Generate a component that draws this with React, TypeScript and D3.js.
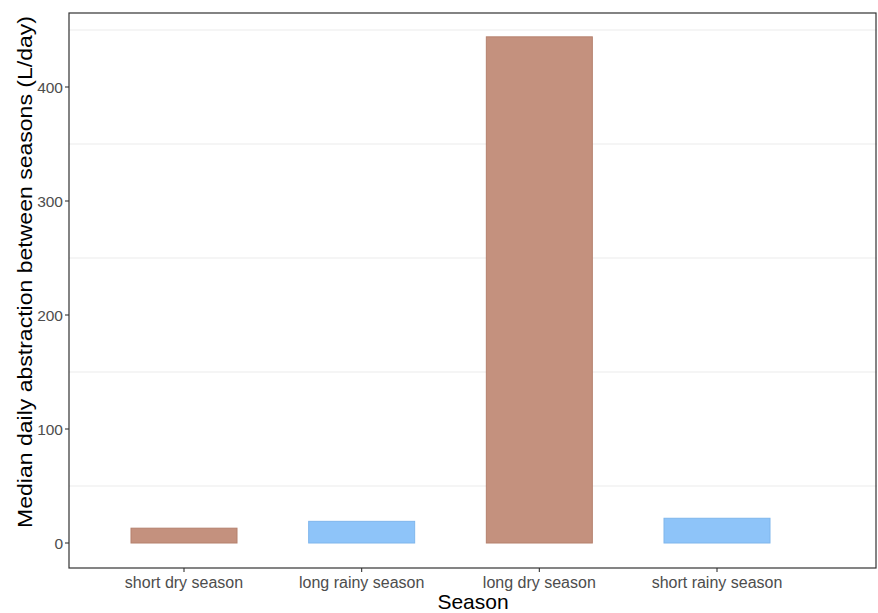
import React from "react";
import * as d3 from "d3";

const categories = ["short dry season", "long rainy season", "long dry season", "short rainy season"];
const values = [13, 19, 444, 21.7];
const seasonType = ["dry", "rainy", "dry", "rainy"];
const yTicks = [0, 100, 200, 300, 400];
const yMinorGrid = [50, 150, 250, 350, 450];

const W = 878;
const H = 613;
const panel = { left: 69, top: 13, right: 877, bottom: 568 };

export default function App() {
  const y = d3.scaleLinear().domain([0, 400]).range([543, 87]);
  const x = d3.scalePoint<string>().domain(categories).range([184, 717]);
  const barW = 106;
  const fill: Record<string, string> = { dry: "#C4917E", rainy: "#8EC4F9" };
  const stroke: Record<string, string> = { dry: "#B5806D", rainy: "#7FB6EC" };
  const font = "Liberation Sans, Arial, sans-serif";
  return (
    <svg width={W} height={H} style={{ position: "absolute", left: 0, top: 0 }}>
      <rect x={0} y={0} width={W} height={H} fill="#fff" />
      {yMinorGrid.map((v) => (
        <line key={v} x1={panel.left} x2={panel.right} y1={y(v)} y2={y(v)} stroke="#EBEBEB" strokeWidth={1} />
      ))}
      {categories.map((c, i) => (
        <rect
          key={c}
          x={x(c)! - barW / 2}
          y={y(values[i])}
          width={barW}
          height={y(0) - y(values[i])}
          fill={fill[seasonType[i]]}
          stroke={stroke[seasonType[i]]}
          strokeWidth={1}
        />
      ))}
      <rect
        x={panel.left}
        y={panel.top}
        width={panel.right - panel.left - 1}
        height={panel.bottom - panel.top}
        fill="none"
        stroke="#333"
        strokeWidth={1.2}
      />
      {yTicks.map((t) => (
        <g key={t}>
          <line x1={panel.left - 4} x2={panel.left} y1={y(t)} y2={y(t)} stroke="#333" strokeWidth={1.1} />
          <text x={panel.left - 6} y={y(t)} dy="0.36em" textAnchor="end" fontFamily={font} fontSize={15.5} fill="#4D4D4D">
            {t}
          </text>
        </g>
      ))}
      {categories.map((c) => (
        <g key={c}>
          <line x1={x(c)} x2={x(c)} y1={panel.bottom} y2={panel.bottom + 4} stroke="#333" strokeWidth={1.1} />
          <text x={x(c)} y={panel.bottom + 20} textAnchor="middle" fontFamily={font} fontSize={16} fill="#4D4D4D">
            {c}
          </text>
        </g>
      ))}
      <text x={473} y={609} textAnchor="middle" fontFamily={font} fontSize={21} fill="#000">
        Season
      </text>
      <text
        transform={`translate(32,272) rotate(-90)`}
        textAnchor="middle"
        fontFamily={font}
        fontSize={21}
        textLength={512}
        lengthAdjust="spacingAndGlyphs"
        fill="#000"
      >
        Median daily abstraction between seasons (L/day)
      </text>
    </svg>
  );
}
